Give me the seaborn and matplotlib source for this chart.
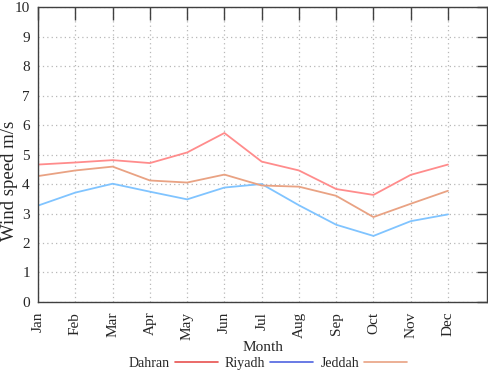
import pandas as pd
import seaborn as sns
import matplotlib.pyplot as plt

months = ["Jan", "Feb", "Mar", "Apr", "May", "Jun",
          "Jul", "Aug", "Sep", "Oct", "Nov", "Dec"]
dahran = [4.66, 4.73, 4.81, 4.71, 5.07, 5.73, 4.76, 4.46, 3.83, 3.63, 4.31, 4.66]
riyadh = [3.27, 3.71, 4.01, 3.74, 3.48, 3.88, 4.00, 3.28, 2.62, 2.24, 2.74, 2.97]
jeddah = [4.27, 4.46, 4.59, 4.12, 4.05, 4.32, 3.95, 3.91, 3.60, 2.88, 3.33, 3.77]

line_colors = {"Dahran": "#ff8c8c", "Riyadh": "#80c4ff", "Jeddah": "#e9a283"}
legend_colors = {"Dahran": "#e8514f", "Riyadh": "#4f63e0", "Jeddah": "#e9a283"}

sns.set_style("white")
plt.rcParams["font.family"] = ["Liberation Serif", "DejaVu Serif"]

df = pd.DataFrame({"Dahran": dahran, "Riyadh": riyadh, "Jeddah": jeddah})
df["idx"] = range(len(months))
long_df = df.melt(id_vars="idx", var_name="city", value_name="speed")

fig = plt.figure(figsize=(4.89, 3.71), dpi=100)
ax = fig.add_axes([0.078, 0.186, 0.918, 0.795])

for city in ["Dahran", "Riyadh", "Jeddah"]:
    sub = long_df[long_df["city"] == city]
    sns.lineplot(data=sub, x="idx", y="speed", color=line_colors[city],
                 lw=1.3, ax=ax, legend=False)

ax.set_xlim(0, 12.05)
ax.set_ylim(0, 10)
ax.set_xticks(range(len(months)))
ax.set_xticklabels(months, rotation=90, va="top", fontsize=11)
ax.set_yticks(range(0, 11))
ax.tick_params(axis="y", labelsize=11, direction="in", length=7.5,
               right=True, width=1, color="#404040", pad=6)
ax.tick_params(axis="x", direction="in", length=9.5, top=True, width=1,
               color="#404040", pad=7)
ax.grid(True, linestyle=(0, (1, 2.5)), color="#b8b8b8", lw=0.9)
for s in ax.spines.values():
    s.set_color("#404040")
    s.set_linewidth(1)

ax.set_xlabel("Month", fontsize=11, labelpad=1)
ax.set_ylabel("")
fig.text(0.02, 0.513, "Wind speed m/s", rotation=90, ha="center",
         va="center", fontsize=13.5)

handles = [plt.Line2D([], [], color=legend_colors[c], lw=1.2)
           for c in ["Dahran", "Riyadh", "Jeddah"]]
fig.legend(handles, ["Dahran", "Riyadh", "Jeddah"], loc="center",
           bbox_to_anchor=(0.548, 0.02), ncol=3, frameon=False,
           markerfirst=False, handlelength=3.1, columnspacing=0.5,
           handletextpad=0.35, fontsize=10)

fig.savefig("out.png", dpi=100)
